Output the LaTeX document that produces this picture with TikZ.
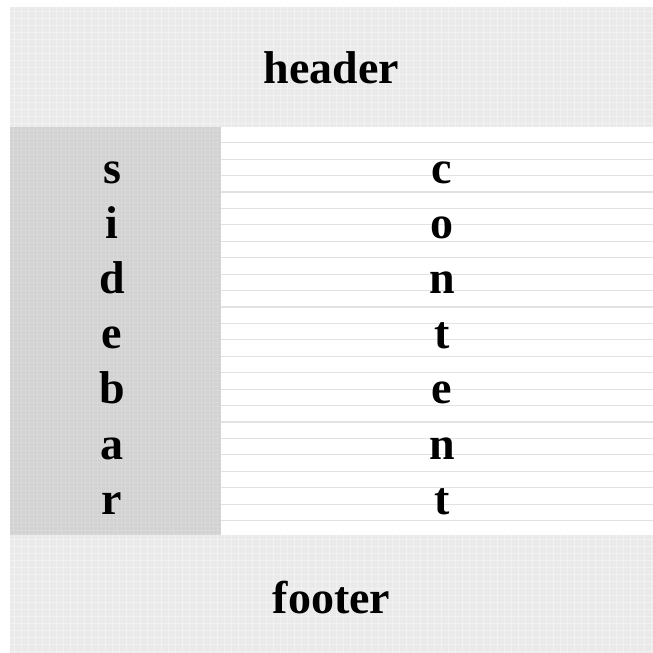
\documentclass[tikz,border=0pt]{standalone}
\usepackage{fontspec}
\setmainfont{Liberation Serif}
\definecolor{bandgray}{HTML}{EAEAEA}
\definecolor{sidegray}{HTML}{D2D2D2}
\definecolor{rulegray}{HTML}{E2E2E2}
\begin{document}
\begin{tikzpicture}[x=1pt,y=-1pt,
  lbl/.style={anchor=base,inner sep=0pt,font=\bfseries\fontsize{46}{46}\selectfont},
  band/.style={fill=bandgray,draw=none},
  texture/.style={draw=white,opacity=0.35,line width=0.6pt}]
\useasboundingbox[fill=white] (0,0) rectangle (653,653);
% header
\fill[band] (10,7) rectangle (653,127);
\begin{scope}
\clip (10,7) rectangle (653,127);
\foreach \x in {14,21,...,653} \draw[texture] (\x,7) -- (\x,127);
\foreach \y in {11,18,...,127} \draw[texture] (10,\y) -- (653,\y);
\end{scope}
% footer
\fill[band] (10,535) rectangle (653,653);
\begin{scope}
\clip (10,535) rectangle (653,653);
\foreach \x in {14,21,...,653} \draw[texture] (\x,535) -- (\x,653);
\foreach \y in {539,546,...,653} \draw[texture] (10,\y) -- (653,\y);
\end{scope}
% sidebar
\fill[sidegray] (10,127) rectangle (221,535);
\begin{scope}
\clip (10,127) rectangle (221,535);
\foreach \x in {13,17,...,221} \draw[draw=white,opacity=0.15,line width=0.5pt] (\x,127) -- (\x,535);
\foreach \y in {130,134,...,535} \draw[draw=white,opacity=0.15,line width=0.5pt] (10,\y) -- (221,\y);
\end{scope}
% content
\fill[white] (221,127) rectangle (653,535);
\foreach \i in {0,...,23} \draw[rulegray,line width=1.2pt] (221,142.7+16.43*\i) -- (653,142.7+16.43*\i);
% texts
\node[lbl] (header) at (331.5,83) {header};
\node[lbl] (footer) at (331.5,613) {footer};
\foreach \c [count=\k from 0] in {s,i,d,e,b,a,r}
  \node[lbl] (side\k) at (112,183+55.2*\k) {\c};
\foreach \c [count=\k from 0] in {c,o,n,t,e,n,t}
  \node[lbl] (cont\k) at (442,183+55.2*\k) {\c};
\end{tikzpicture}
\end{document}
